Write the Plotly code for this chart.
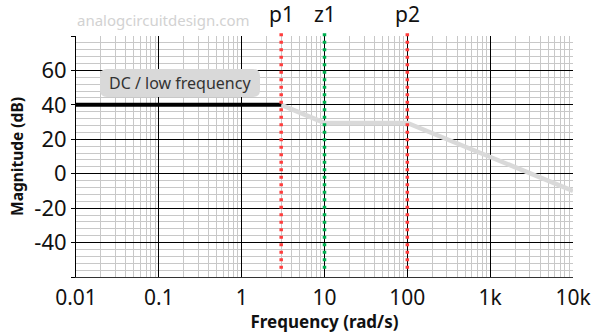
import numpy as np
import plotly.graph_objects as go

# ---- data ----
dc_freq = [0.01, 3]
dc_mag = [40, 40]
curve_freq = [3, 10, 100, 10000]
curve_mag = [40, 29.5, 29.5, -10]
marker_freqs = [3, 10, 100]
marker_labels = ["p1", "z1", "p2"]
marker_colors = ["#ff3d3d", "#00b050", "#ff3d3d"]
x_tickvals = [0.01, 0.1, 1, 10, 100, 1000, 10000]
x_ticktext = ["0.01", "0.1", "1", "10", "100", "1k", "10k"]
y_tickvals = [-60, -40, -20, 0, 20, 40, 60, 80]
y_ticktext = ["", "-40", "-20", "0", "20", "40", "60", ""]

FONT = "Noto Sans"
W, H = 600, 333
ML, MR, MT, MB = 76, 27, 36, 56
PW, PH = W - ML - MR, H - MT - MB

fig = go.Figure()

fig.add_trace(go.Scatter(
    x=curve_freq, y=curve_mag, mode="lines",
    line=dict(color="#d9d9d9", width=4.5), hoverinfo="skip", showlegend=False,
))
fig.add_trace(go.Scatter(
    x=dc_freq, y=dc_mag, mode="lines",
    line=dict(color="#000000", width=4), hoverinfo="skip", showlegend=False,
))

for f, lab, col in zip(marker_freqs, marker_labels, marker_colors):
    fig.add_shape(
        type="line", xref="x", yref="paper", x0=f, x1=f, y0=0.034, y1=1.03,
        line=dict(color=col, width=3.5, dash="3px,4.5px"), layer="above",
    )
    fig.add_annotation(
        x=np.log10(f), xref="x", yref="paper", y=1 + (MT - 14) / PH, yanchor="middle",
        text=lab, showarrow=False, font=dict(family=FONT, size=21, color="#111111"),
    )

# rounded label box (pixel geometry -> paper coords)
bx0, bx1, by0, by1, rad = 100, 260, 69, 97, 7
def px(x):
    return (x - ML) / PW
def py(y):
    return (H - MB - y) / PH
path = (
    f"M {px(bx0 + rad)},{py(by0)} L {px(bx1 - rad)},{py(by0)} "
    f"Q {px(bx1)},{py(by0)} {px(bx1)},{py(by0 + rad)} "
    f"L {px(bx1)},{py(by1 - rad)} Q {px(bx1)},{py(by1)} {px(bx1 - rad)},{py(by1)} "
    f"L {px(bx0 + rad)},{py(by1)} Q {px(bx0)},{py(by1)} {px(bx0)},{py(by1 - rad)} "
    f"L {px(bx0)},{py(by0 + rad)} Q {px(bx0)},{py(by0)} {px(bx0 + rad)},{py(by0)} Z"
)
fig.add_shape(type="path", xref="paper", yref="paper", path=path,
              fillcolor="#d9d9d9", line=dict(width=0), layer="above")
fig.add_annotation(
    xref="paper", yref="paper", x=px((bx0 + bx1) / 2), y=py((by0 + by1) / 2),
    xanchor="center", yanchor="middle", text="DC / low frequency",
    showarrow=False, font=dict(family=FONT, size=16, color="#333333"),
)

fig.add_annotation(
    xref="paper", yref="paper", x=px(75), xanchor="left", y=py(20), yanchor="middle",
    text="analogcircuitdesign.com", showarrow=False,
    font=dict(family=FONT, size=15, color="#d2d2d2"),
)

fig.update_xaxes(
    type="log", range=[-2, 4],
    tickmode="array", tickvals=x_tickvals, ticktext=x_ticktext,
    showgrid=True, gridcolor="#000000", gridwidth=1,
    minor=dict(dtick="D1", showgrid=True, gridcolor="#c8c8c8", gridwidth=1, ticks=""),
    ticks="", showline=True, linecolor="#333333", linewidth=1,
    ticklabelstandoff=2,
    tickfont=dict(family=FONT, size=21, color="#111111"),
    title=dict(text="Frequency (rad/s)", font=dict(family=FONT, size=17, color="#111111", weight="bold"), standoff=6),
    zeroline=False,
)
fig.update_yaxes(
    range=[-60, 80], tickmode="array", tickvals=y_tickvals, ticktext=y_ticktext,
    showgrid=True, gridcolor="#000000", gridwidth=1,
    minor=dict(dtick=4, showgrid=True, gridcolor="#c8c8c8", gridwidth=1, ticks=""),
    ticks="outside", ticklen=4, tickcolor="#000000",
    showline=True, linecolor="#000000", linewidth=1,
    tickfont=dict(family=FONT, size=22, color="#111111"),
    title=dict(text="Magnitude (dB)", font=dict(family=FONT, size=15.5, color="#111111", weight="bold"), standoff=6),
    zeroline=False,
)

fig.update_layout(
    width=W, height=H,
    margin=dict(l=ML, r=MR, t=MT, b=MB, autoexpand=False),
    paper_bgcolor="white", plot_bgcolor="white",
    showlegend=False,
)

fig.write_html("out.html")
